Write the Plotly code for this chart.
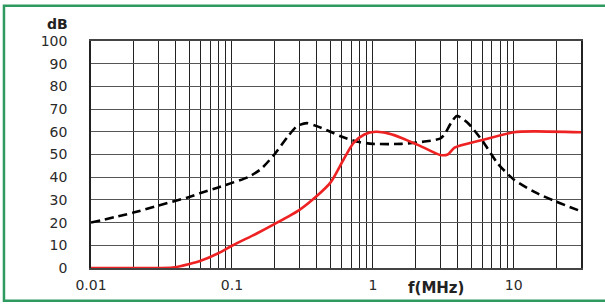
import plotly.graph_objects as go

# Data
freq_black = [0.01, 0.02, 0.03, 0.048, 0.06, 0.08, 0.1, 0.13, 0.16, 0.2, 0.25, 0.29, 0.34, 0.4,
              0.5, 0.59, 0.8, 1.0, 1.6, 2.4, 3.0, 3.2, 3.6, 3.95, 4.7, 6.0, 7.7, 10, 14, 19.5, 30]
db_black = [20, 24.4, 27.5, 31, 33, 35.5, 37.5, 40, 43.5, 50, 58, 62.5, 63.8, 62.5,
            60, 58, 55.5, 54.7, 54.7, 55.8, 57, 58.5, 64, 67, 64, 56, 46, 39, 33.5, 29.5, 25]

freq_red = [0.01, 0.02, 0.03, 0.038, 0.05, 0.06, 0.08, 0.1, 0.15, 0.2, 0.3, 0.4, 0.5, 0.62,
            0.73, 0.87, 1.05, 1.3, 1.6, 2.2, 3.0, 3.4, 3.8, 5.9, 10, 14, 30]
db_red = [0, 0, 0, 0.2, 1.8, 3.2, 6.5, 9.8, 15.2, 19.3, 25.5, 31.7, 37.6, 47.8,
          55.1, 58.8, 60, 59.2, 57.3, 53.6, 49.8, 50, 53, 56.3, 59.8, 60.2, 59.8]

# grid positions (1..9 per decade) and labels (decades only)
x_grid = [m * 10 ** e for e in (-2, -1, 0, 1) for m in range(1, 10) if m * 10 ** e <= 30.0001]
x_labels = {0.01: "0.01", 0.1: "0.1", 1: "1", 10: "10"}
x_text = [x_labels.get(round(v, 6), "") for v in x_grid]
y_ticks = list(range(0, 101, 10))

fig = go.Figure()
fig.add_trace(go.Scatter(x=freq_black, y=db_black, mode="lines",
                         line=dict(color="black", width=2.6, dash="9px,5px", shape="spline", smoothing=0.7),
                         showlegend=False))
fig.add_trace(go.Scatter(x=freq_red, y=db_red, mode="lines",
                         line=dict(color="#ee2222", width=2.6, shape="spline", smoothing=0.7),
                         showlegend=False))

font = dict(family="DejaVu Sans", size=14, color="#2a2a2a")

fig.update_layout(
    width=605, height=305,
    margin=dict(l=91, r=24, t=41, b=35),
    paper_bgcolor="white", plot_bgcolor="white",
    font=font,
    xaxis=dict(type="log", range=[-2, 1.4771], tickvals=x_grid, ticktext=x_text,
               showgrid=True, gridcolor="#222222", gridwidth=1.3, ticks="",
               showline=True, linecolor="#444444", linewidth=1.5, mirror=True,
               zeroline=False, ticklabelstandoff=3, tickangle=0),
    yaxis=dict(range=[0, 100], tickvals=y_ticks, showgrid=True, gridcolor="#555555",
               gridwidth=1, ticks="", showline=True, linecolor="#222222", linewidth=1.5,
               mirror=True, zeroline=False, ticklabelstandoff=19),
    shapes=[dict(type="rect", xref="paper", yref="paper",
                 x0=-0.1776, x1=1.08, y0=-0.144, y1=1.155,
                 line=dict(color="#2e9a60", width=2.5), layer="above")],
    annotations=[
        dict(text="<b>dB</b>", xref="paper", yref="paper", x=(57 - 91) / 490,
             y=(270 - 24) / 229, showarrow=False, xanchor="center", yanchor="middle",
             font=dict(family="DejaVu Sans", size=14, color="#222222")),
        dict(text="<b>f(MHz)</b>", xref="paper", yref="paper", x=(436 - 91) / 490,
             y=(270 - 290) / 229, showarrow=False, xanchor="center", yanchor="middle",
             font=dict(family="DejaVu Sans", size=15, color="#222222")),
    ],
)

fig.write_html("out.html", config={"displayModeBar": False},
               post_script="document.body.style.margin='0';document.body.style.overflow='hidden';")
